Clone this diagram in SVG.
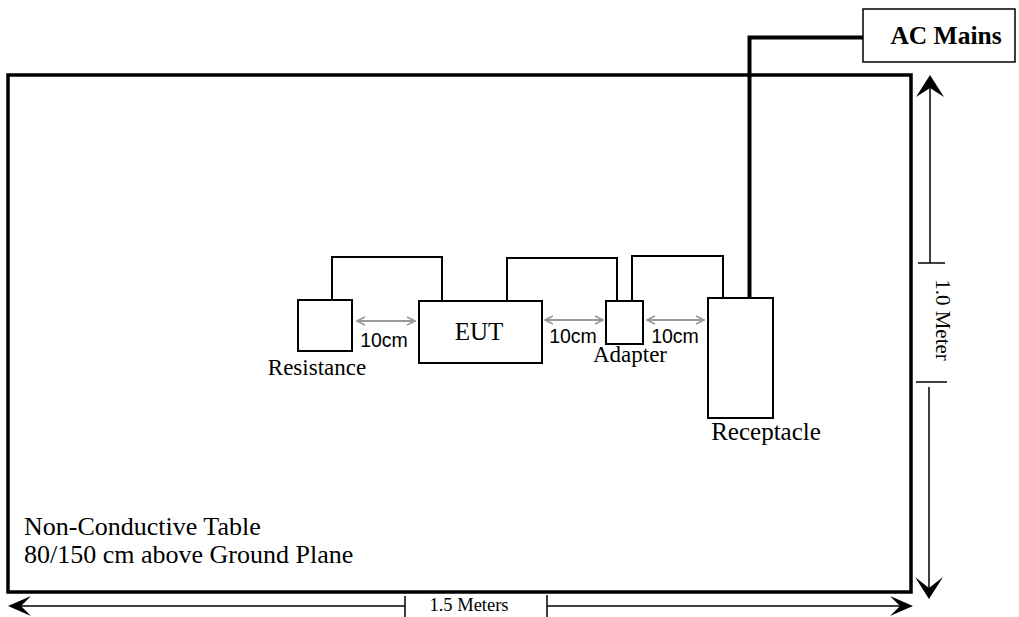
<svg xmlns="http://www.w3.org/2000/svg" width="1019" height="617" viewBox="0 0 1019 617">
<style>
.serif{font-family:"Liberation Serif","Times New Roman",serif;fill:#000}
.sans{font-family:"Liberation Sans",Arial,sans-serif;fill:#000}
.box{fill:#fff;stroke:#000;stroke-width:2}
.wire{fill:none;stroke:#000;stroke-width:2}
.dim{fill:none;stroke:#000;stroke-width:1.5}
.gap{fill:none;stroke:#999;stroke-width:2;marker-start:url(#ga);marker-end:url(#ga)}
</style>
<defs>
<marker id="ga" viewBox="0 0 10 10" refX="9" refY="5" markerWidth="10" markerHeight="10" markerUnits="userSpaceOnUse" orient="auto-start-reverse">
<path d="M1,1 L9,5 L1,9" fill="none" stroke="#999" stroke-width="1.6"/>
</marker>
</defs>
<g id="table">
<rect x="8" y="75" width="903" height="517" fill="#fff" stroke="#000" stroke-width="3.5"/>
<text class="serif" x="24" y="535" font-size="26">Non-Conductive Table</text>
<text class="serif" x="24" y="563" font-size="26">80/150 cm above Ground Plane</text>
</g>
<g id="ac-mains">
<rect x="863" y="9" width="152" height="53" fill="#fff" stroke="#000" stroke-width="1.5"/>
<text class="serif" x="946" y="44" font-size="25.5" font-weight="bold" text-anchor="middle">AC Mains</text>
</g>
<g id="resistance">
<rect class="box" x="298" y="300" width="54" height="51"/>
<text class="serif" x="317" y="375" font-size="23" text-anchor="middle">Resistance</text>
</g>
<g id="eut">
<rect class="box" x="419" y="301" width="123" height="62"/>
<text class="serif" x="479" y="340" font-size="25" text-anchor="middle">EUT</text>
</g>
<g id="adapter">
<rect class="box" x="606" y="301" width="37" height="43"/>
<text class="serif" x="630" y="362" font-size="23" text-anchor="middle">Adapter</text>
</g>
<g id="receptacle">
<rect class="box" x="708" y="298" width="65" height="120"/>
<text class="serif" x="766" y="440" font-size="25" text-anchor="middle">Receptacle</text>
</g>
<g id="connectors">
<path class="wire" d="M332,300 V257 H442 V301"/>
<path class="wire" d="M507,301 V258 H617 V301"/>
<path class="wire" d="M632,301 V256 H723 V298"/>
<path d="M863,37.5 H749.5 V298" fill="none" stroke="#000" stroke-width="4"/>
<line class="gap" x1="357" y1="321" x2="415" y2="321"/>
<line class="gap" x1="545" y1="320" x2="603" y2="320"/>
<line class="gap" x1="647" y1="320" x2="704" y2="320"/>
<text class="sans" x="384" y="347" font-size="19.5" text-anchor="middle">10cm</text>
<text class="sans" x="573" y="343" font-size="19.5" text-anchor="middle">10cm</text>
<text class="sans" x="675" y="343" font-size="19.5" text-anchor="middle">10cm</text>
</g>
<g id="dimensions">
<line class="dim" x1="930" y1="85" x2="930" y2="263"/>
<line class="dim" x1="918" y1="263" x2="945" y2="263"/>
<path d="M930,75 L944,97 L930,88 L916,97 Z" fill="#000"/>
<text class="serif" transform="translate(936,320) rotate(90)" font-size="21" text-anchor="middle">1.0 Meter</text>
<line class="dim" x1="916" y1="382" x2="947" y2="382"/>
<line class="dim" x1="929" y1="387" x2="929" y2="590"/>
<path d="M929,599 L943,577 L929,588 L915,577 Z" fill="#000"/>
<line class="dim" x1="18" y1="606" x2="405" y2="606"/>
<line class="dim" x1="405" y1="596" x2="405" y2="617"/>
<path d="M8,606 L31,596 L21,606 L31,616 Z" fill="#000"/>
<text class="serif" x="469" y="611" font-size="18.5" text-anchor="middle">1.5 Meters</text>
<line class="dim" x1="547" y1="595" x2="547" y2="617"/>
<line class="dim" x1="547" y1="606" x2="903" y2="606"/>
<path d="M913,606 L890,596 L900,606 L890,616 Z" fill="#000"/>
</g>
</svg>
